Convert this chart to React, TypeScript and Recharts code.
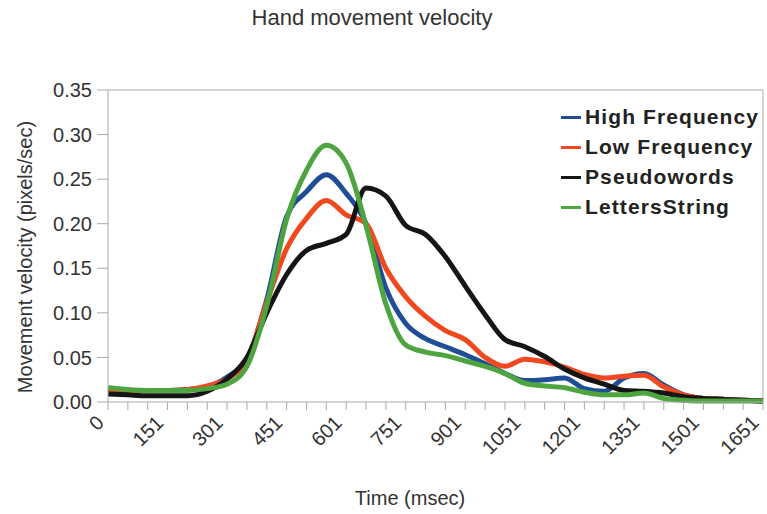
import { Label, Line, LineChart, ReferenceLine, XAxis, YAxis } from 'recharts';

const times = [
  '0', '50', '100', '151', '201', '251', '301', '351', '401', '451', '501', '551',
  '601', '651', '701', '751', '801', '851', '901', '951', '1001', '1051', '1101', '1151',
  '1201', '1251', '1301', '1351', '1401', '1451', '1501', '1551', '1601', '1651',
];
const tickLabels = ['0', '151', '301', '451', '601', '751', '901', '1051', '1201', '1351', '1501', '1651'];
const yTicks = [0, 0.05, 0.1, 0.15, 0.2, 0.25, 0.3, 0.35];

const highFrequency = [
  0.014, 0.013, 0.013, 0.013, 0.014, 0.017, 0.028, 0.048, 0.115, 0.208, 0.236, 0.255,
  0.234, 0.2, 0.128, 0.088, 0.071, 0.062, 0.053, 0.043, 0.032, 0.024, 0.025, 0.027,
  0.015, 0.012, 0.027, 0.032, 0.019, 0.008, 0.004, 0.003, 0.002, 0.001,
];
const lowFrequency = [
  0.013, 0.013, 0.013, 0.013, 0.014, 0.018, 0.026, 0.047, 0.112, 0.172, 0.206, 0.226,
  0.21, 0.2, 0.15, 0.118, 0.096, 0.08, 0.07, 0.05, 0.04, 0.048, 0.045, 0.039,
  0.031, 0.027, 0.029, 0.03, 0.017, 0.008, 0.004, 0.003, 0.002, 0.001,
];
const pseudowords = [
  0.009, 0.008, 0.007, 0.007, 0.007, 0.012, 0.026, 0.05, 0.1, 0.143, 0.17, 0.178,
  0.188, 0.24, 0.231, 0.198, 0.188, 0.163, 0.13, 0.098, 0.07, 0.062, 0.051, 0.037,
  0.027, 0.02, 0.013, 0.012, 0.01, 0.006, 0.004, 0.003, 0.002, 0.001,
];
const lettersString = [
  0.016, 0.014, 0.013, 0.013, 0.013, 0.015, 0.02, 0.04, 0.108, 0.205, 0.26, 0.288,
  0.268, 0.198, 0.11, 0.064, 0.056, 0.052, 0.046, 0.04, 0.032, 0.021, 0.018, 0.016,
  0.011, 0.008, 0.008, 0.01, 0.004, 0.002, 0.001, 0.001, 0.001, 0.001,
];

const series = [
  { key: 'high', name: 'High Frequency', colour: '#1f4e96', values: highFrequency },
  { key: 'low', name: 'Low Frequency', colour: '#f2481f', values: lowFrequency },
  { key: 'pseudo', name: 'Pseudowords', colour: '#151515', values: pseudowords },
  { key: 'letters', name: 'LettersString', colour: '#4ea43f', values: lettersString },
];

const data = times.map((t, i) => {
  const row: Record<string, string | number> = { t };
  series.forEach(s => { row[s.key] = s.values[i]; });
  return row;
});

const font = 'Arial, "Liberation Sans", sans-serif';
const axisGrey = '#a9a9a9';

function TimeTick({ x, y, payload }: any) {
  if (!tickLabels.includes(payload.value)) return null;
  const ax = x - 3;
  const ay = y + 12;
  return (
    <text
      x={ax}
      y={ay}
      transform={`rotate(-45, ${ax}, ${ay})`}
      textAnchor="end"
      fontSize={20}
      fontFamily={font}
      fill="#333"
    >
      {payload.value}
    </text>
  );
}

export default function App() {
  return (
    <div style={{ position: 'absolute', left: 0, top: 0, width: 767, height: 514, background: '#fff' }}>
      <div
        style={{
          position: 'absolute', left: 0, top: 5, width: 744, textAlign: 'center',
          fontFamily: font, fontSize: 22, color: '#333',
        }}
      >
        Hand movement velocity
      </div>
      <LineChart width={767} height={514} data={data} margin={{ top: 90, right: 4, left: 0, bottom: 0 }}>
        <XAxis
          dataKey="t"
          interval={0}
          tick={<TimeTick />}
          tickSize={8}
          stroke={axisGrey}
          height={112}
        >
          <Label
            content={() => (
              <text x={410} y={505} textAnchor="middle" fontSize={20} fontFamily={font} fill="#333">
                Time (msec)
              </text>
            )}
          />
        </XAxis>
        <YAxis
          domain={[0, 0.35]}
          ticks={yTicks}
          interval={0}
          tickFormatter={(v: number) => v.toFixed(2)}
          tickSize={11}
          tickMargin={5}
          width={108}
          stroke={axisGrey}
          tick={{ fontSize: 20, fontFamily: font, fill: '#333' }}
        >
          <Label
            content={() => (
              <text
                x={32}
                y={257}
                transform="rotate(-90, 32, 257)"
                textAnchor="middle"
                fontSize={20}
                fontFamily={font}
                fill="#333"
              >
                Movement velocity (pixels/sec)
              </text>
            )}
          />
        </YAxis>
        <ReferenceLine y={0.35} stroke={axisGrey} />
        <ReferenceLine x="1651" stroke={axisGrey} />
        {series.map(s => (
          <Line
            key={s.key}
            type="monotone"
            dataKey={s.key}
            name={s.name}
            stroke={s.colour}
            strokeWidth={5}
            dot={false}
            isAnimationActive={false}
          />
        ))}
      </LineChart>
      <div
        style={{
          position: 'absolute', left: 561, top: 102, fontFamily: font, fontWeight: 'bold',
          fontSize: 21, letterSpacing: 1.1, color: '#222',
        }}
      >
        {series.map(s => (
          <div key={s.key} style={{ display: 'flex', alignItems: 'center', height: 30 }}>
            <span style={{ display: 'inline-block', width: 20, height: 3, background: s.colour, marginRight: 4 }} />
            {s.name}
          </div>
        ))}
      </div>
    </div>
  );
}
